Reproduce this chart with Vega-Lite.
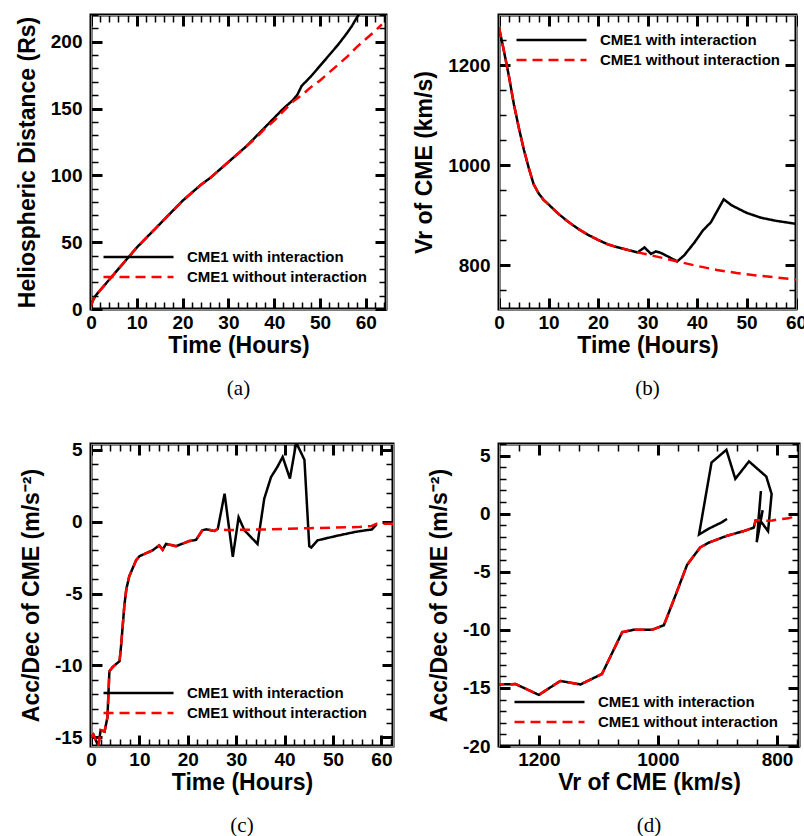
{
  "$schema": "https://vega.github.io/schema/vega-lite/v6.json",
  "background": "white",
  "padding": {"left": 14, "top": 6, "right": 0, "bottom": 0},
  "config": {
    "view": {"stroke": "black", "strokeWidth": 3},
    "axis": {"grid": false}
  },
  "datasets": {
    "dist": [
      {"t":0,"d":3,"s":"CME1 with interaction"},{"t":0.5,"d":7,"s":"CME1 with interaction"},{"t":1,"d":10,"s":"CME1 with interaction"},{"t":2,"d":14,"s":"CME1 with interaction"},{"t":4,"d":22,"s":"CME1 with interaction"},{"t":6,"d":30,"s":"CME1 with interaction"},{"t":8,"d":38,"s":"CME1 with interaction"},{"t":10,"d":46,"s":"CME1 with interaction"},{"t":12,"d":53,"s":"CME1 with interaction"},{"t":14,"d":60,"s":"CME1 with interaction"},{"t":16,"d":67,"s":"CME1 with interaction"},{"t":18,"d":74,"s":"CME1 with interaction"},{"t":20,"d":81,"s":"CME1 with interaction"},{"t":22,"d":87,"s":"CME1 with interaction"},{"t":24,"d":93,"s":"CME1 with interaction"},{"t":26,"d":98,"s":"CME1 with interaction"},{"t":28,"d":104,"s":"CME1 with interaction"},{"t":30,"d":110,"s":"CME1 with interaction"},{"t":32,"d":116,"s":"CME1 with interaction"},{"t":34,"d":122,"s":"CME1 with interaction"},{"t":36,"d":129,"s":"CME1 with interaction"},{"t":38,"d":136,"s":"CME1 with interaction"},{"t":40,"d":143,"s":"CME1 with interaction"},{"t":42,"d":150,"s":"CME1 with interaction"},{"t":44,"d":156,"s":"CME1 with interaction"},{"t":45,"d":160,"s":"CME1 with interaction"},{"t":46,"d":167,"s":"CME1 with interaction"},{"t":48,"d":174,"s":"CME1 with interaction"},{"t":50,"d":182,"s":"CME1 with interaction"},{"t":52,"d":190,"s":"CME1 with interaction"},{"t":54,"d":198,"s":"CME1 with interaction"},{"t":56,"d":207,"s":"CME1 with interaction"},{"t":57,"d":212,"s":"CME1 with interaction"},{"t":58,"d":218,"s":"CME1 with interaction"},{"t":59,"d":223,"s":"CME1 with interaction"},
      {"t":0,"d":2,"s":"CME1 without interaction"},{"t":0.5,"d":7,"s":"CME1 without interaction"},{"t":1,"d":10,"s":"CME1 without interaction"},{"t":2,"d":14,"s":"CME1 without interaction"},{"t":4,"d":22,"s":"CME1 without interaction"},{"t":6,"d":30,"s":"CME1 without interaction"},{"t":8,"d":38,"s":"CME1 without interaction"},{"t":10,"d":46,"s":"CME1 without interaction"},{"t":12,"d":53,"s":"CME1 without interaction"},{"t":14,"d":60,"s":"CME1 without interaction"},{"t":16,"d":67,"s":"CME1 without interaction"},{"t":18,"d":74,"s":"CME1 without interaction"},{"t":20,"d":81,"s":"CME1 without interaction"},{"t":22,"d":87,"s":"CME1 without interaction"},{"t":24,"d":93,"s":"CME1 without interaction"},{"t":26,"d":98,"s":"CME1 without interaction"},{"t":28,"d":104,"s":"CME1 without interaction"},{"t":30,"d":110,"s":"CME1 without interaction"},{"t":32,"d":116,"s":"CME1 without interaction"},{"t":34,"d":122,"s":"CME1 without interaction"},{"t":36,"d":128,"s":"CME1 without interaction"},{"t":38,"d":135,"s":"CME1 without interaction"},{"t":40,"d":141,"s":"CME1 without interaction"},{"t":42,"d":148,"s":"CME1 without interaction"},{"t":44,"d":155,"s":"CME1 without interaction"},{"t":46,"d":160,"s":"CME1 without interaction"},{"t":48,"d":166,"s":"CME1 without interaction"},{"t":50,"d":171,"s":"CME1 without interaction"},{"t":52,"d":177,"s":"CME1 without interaction"},{"t":54,"d":183,"s":"CME1 without interaction"},{"t":56,"d":189,"s":"CME1 without interaction"},{"t":58,"d":196,"s":"CME1 without interaction"},{"t":60,"d":202,"s":"CME1 without interaction"},{"t":62,"d":208,"s":"CME1 without interaction"},{"t":63.5,"d":213,"s":"CME1 without interaction"}
    ],
    "vel": [
      {"t":0,"v":1275,"s":"CME1 with interaction"},{"t":1,"v":1228,"s":"CME1 with interaction"},{"t":2,"v":1178,"s":"CME1 with interaction"},{"t":3,"v":1122,"s":"CME1 with interaction"},{"t":4,"v":1075,"s":"CME1 with interaction"},{"t":5,"v":1032,"s":"CME1 with interaction"},{"t":6,"v":995,"s":"CME1 with interaction"},{"t":7,"v":962,"s":"CME1 with interaction"},{"t":8,"v":944,"s":"CME1 with interaction"},{"t":9,"v":931,"s":"CME1 with interaction"},{"t":10,"v":922,"s":"CME1 with interaction"},{"t":12,"v":903,"s":"CME1 with interaction"},{"t":14,"v":887,"s":"CME1 with interaction"},{"t":16,"v":873,"s":"CME1 with interaction"},{"t":18,"v":861,"s":"CME1 with interaction"},{"t":20,"v":851,"s":"CME1 with interaction"},{"t":22,"v":842,"s":"CME1 with interaction"},{"t":24,"v":836,"s":"CME1 with interaction"},{"t":26,"v":831,"s":"CME1 with interaction"},{"t":28,"v":826,"s":"CME1 with interaction"},{"t":29.4,"v":836,"s":"CME1 with interaction"},{"t":30.7,"v":823,"s":"CME1 with interaction"},{"t":31.7,"v":828,"s":"CME1 with interaction"},{"t":32.7,"v":825,"s":"CME1 with interaction"},{"t":34.5,"v":816,"s":"CME1 with interaction"},{"t":36,"v":808,"s":"CME1 with interaction"},{"t":37.4,"v":820,"s":"CME1 with interaction"},{"t":39.5,"v":846,"s":"CME1 with interaction"},{"t":41.2,"v":870,"s":"CME1 with interaction"},{"t":42.8,"v":886,"s":"CME1 with interaction"},{"t":45.4,"v":932,"s":"CME1 with interaction"},{"t":47,"v":920,"s":"CME1 with interaction"},{"t":50,"v":905,"s":"CME1 with interaction"},{"t":53,"v":895,"s":"CME1 with interaction"},{"t":56,"v":889,"s":"CME1 with interaction"},{"t":58,"v":886,"s":"CME1 with interaction"},{"t":60,"v":883,"s":"CME1 with interaction"},
      {"t":0,"v":1275,"s":"CME1 without interaction"},{"t":1,"v":1228,"s":"CME1 without interaction"},{"t":2,"v":1178,"s":"CME1 without interaction"},{"t":3,"v":1122,"s":"CME1 without interaction"},{"t":4,"v":1075,"s":"CME1 without interaction"},{"t":5,"v":1032,"s":"CME1 without interaction"},{"t":6,"v":995,"s":"CME1 without interaction"},{"t":7,"v":962,"s":"CME1 without interaction"},{"t":8,"v":944,"s":"CME1 without interaction"},{"t":9,"v":931,"s":"CME1 without interaction"},{"t":10,"v":922,"s":"CME1 without interaction"},{"t":12,"v":903,"s":"CME1 without interaction"},{"t":14,"v":887,"s":"CME1 without interaction"},{"t":16,"v":873,"s":"CME1 without interaction"},{"t":18,"v":861,"s":"CME1 without interaction"},{"t":20,"v":851,"s":"CME1 without interaction"},{"t":22,"v":842,"s":"CME1 without interaction"},{"t":24,"v":836,"s":"CME1 without interaction"},{"t":26,"v":831,"s":"CME1 without interaction"},{"t":28,"v":826,"s":"CME1 without interaction"},{"t":30,"v":822,"s":"CME1 without interaction"},{"t":33,"v":815,"s":"CME1 without interaction"},{"t":36,"v":808,"s":"CME1 without interaction"},{"t":40,"v":799,"s":"CME1 without interaction"},{"t":44,"v":791,"s":"CME1 without interaction"},{"t":48,"v":785,"s":"CME1 without interaction"},{"t":52,"v":780,"s":"CME1 without interaction"},{"t":56,"v":776,"s":"CME1 without interaction"},{"t":60,"v":772,"s":"CME1 without interaction"}
    ],
    "acc": [
      {"t":0,"a":-15.0,"s":"CME1 with interaction"},{"t":0.5,"a":-14.8,"s":"CME1 with interaction"},{"t":1,"a":-15.2,"s":"CME1 with interaction"},{"t":1.5,"a":-15.6,"s":"CME1 with interaction"},{"t":2,"a":-14.5,"s":"CME1 with interaction"},{"t":2.8,"a":-14.6,"s":"CME1 with interaction"},{"t":3.4,"a":-13.6,"s":"CME1 with interaction"},{"t":3.8,"a":-10.4,"s":"CME1 with interaction"},{"t":4.5,"a":-10.1,"s":"CME1 with interaction"},{"t":5.9,"a":-9.7,"s":"CME1 with interaction"},{"t":6.2,"a":-8.7,"s":"CME1 with interaction"},{"t":6.9,"a":-5.8,"s":"CME1 with interaction"},{"t":7.3,"a":-4.7,"s":"CME1 with interaction"},{"t":7.9,"a":-3.8,"s":"CME1 with interaction"},{"t":9.3,"a":-2.7,"s":"CME1 with interaction"},{"t":10,"a":-2.4,"s":"CME1 with interaction"},{"t":12.7,"a":-2.0,"s":"CME1 with interaction"},{"t":14.1,"a":-1.65,"s":"CME1 with interaction"},{"t":14.8,"a":-1.95,"s":"CME1 with interaction"},{"t":15.5,"a":-1.55,"s":"CME1 with interaction"},{"t":17.6,"a":-1.7,"s":"CME1 with interaction"},{"t":20.3,"a":-1.35,"s":"CME1 with interaction"},{"t":21.7,"a":-1.27,"s":"CME1 with interaction"},{"t":23,"a":-0.6,"s":"CME1 with interaction"},{"t":23.8,"a":-0.53,"s":"CME1 with interaction"},{"t":25.5,"a":-0.65,"s":"CME1 with interaction"},{"t":26.2,"a":-0.5,"s":"CME1 with interaction"},{"t":27.6,"a":1.95,"s":"CME1 with interaction"},{"t":29.3,"a":-2.45,"s":"CME1 with interaction"},{"t":30.5,"a":0.3,"s":"CME1 with interaction"},{"t":31.7,"a":-0.6,"s":"CME1 with interaction"},{"t":34.4,"a":-1.55,"s":"CME1 with interaction"},{"t":35.8,"a":1.6,"s":"CME1 with interaction"},{"t":37.2,"a":3.1,"s":"CME1 with interaction"},{"t":38.5,"a":3.8,"s":"CME1 with interaction"},{"t":39.6,"a":4.5,"s":"CME1 with interaction"},{"t":41.1,"a":3.0,"s":"CME1 with interaction"},{"t":42.4,"a":5.5,"s":"CME1 with interaction"},{"t":44.1,"a":4.3,"s":"CME1 with interaction"},{"t":45.1,"a":-1.7,"s":"CME1 with interaction"},{"t":45.5,"a":-1.8,"s":"CME1 with interaction"},{"t":46.8,"a":-1.3,"s":"CME1 with interaction"},{"t":50.6,"a":-1.0,"s":"CME1 with interaction"},{"t":54.8,"a":-0.7,"s":"CME1 with interaction"},{"t":56.8,"a":-0.6,"s":"CME1 with interaction"},{"t":58,"a":-0.55,"s":"CME1 with interaction"},{"t":59,"a":-0.2,"s":"CME1 with interaction"},
      {"t":0,"a":-15.0,"s":"CME1 without interaction"},{"t":0.5,"a":-14.8,"s":"CME1 without interaction"},{"t":1,"a":-15.2,"s":"CME1 without interaction"},{"t":1.5,"a":-15.6,"s":"CME1 without interaction"},{"t":2,"a":-14.5,"s":"CME1 without interaction"},{"t":2.8,"a":-14.6,"s":"CME1 without interaction"},{"t":3.4,"a":-13.6,"s":"CME1 without interaction"},{"t":3.8,"a":-10.4,"s":"CME1 without interaction"},{"t":4.5,"a":-10.1,"s":"CME1 without interaction"},{"t":5.9,"a":-9.7,"s":"CME1 without interaction"},{"t":6.2,"a":-8.7,"s":"CME1 without interaction"},{"t":6.9,"a":-5.8,"s":"CME1 without interaction"},{"t":7.3,"a":-4.7,"s":"CME1 without interaction"},{"t":7.9,"a":-3.8,"s":"CME1 without interaction"},{"t":9.3,"a":-2.7,"s":"CME1 without interaction"},{"t":10,"a":-2.4,"s":"CME1 without interaction"},{"t":12.7,"a":-2.0,"s":"CME1 without interaction"},{"t":14.1,"a":-1.65,"s":"CME1 without interaction"},{"t":14.8,"a":-1.95,"s":"CME1 without interaction"},{"t":15.5,"a":-1.55,"s":"CME1 without interaction"},{"t":17.6,"a":-1.7,"s":"CME1 without interaction"},{"t":20.3,"a":-1.35,"s":"CME1 without interaction"},{"t":21.7,"a":-1.27,"s":"CME1 without interaction"},{"t":23,"a":-0.6,"s":"CME1 without interaction"},{"t":23.8,"a":-0.53,"s":"CME1 without interaction"},{"t":25.5,"a":-0.65,"s":"CME1 without interaction"},{"t":26.2,"a":-0.5,"s":"CME1 without interaction"},{"t":28,"a":-0.58,"s":"CME1 without interaction"},{"t":35,"a":-0.55,"s":"CME1 without interaction"},{"t":45,"a":-0.45,"s":"CME1 without interaction"},{"t":55,"a":-0.38,"s":"CME1 without interaction"},{"t":58,"a":-0.3,"s":"CME1 without interaction"},{"t":59,"a":-0.15,"s":"CME1 without interaction"},{"t":62.4,"a":-0.15,"s":"CME1 without interaction"}
    ],
    "phase": [
      {"i":1,"v":1275,"a":-14.7,"s":"CME1 with interaction"},{"i":2,"v":1239,"a":-14.67,"s":"CME1 with interaction"},{"i":3,"v":1200,"a":-15.6,"s":"CME1 with interaction"},{"i":4,"v":1164,"a":-14.4,"s":"CME1 with interaction"},{"i":5,"v":1130,"a":-14.7,"s":"CME1 with interaction"},{"i":6,"v":1094,"a":-13.8,"s":"CME1 with interaction"},{"i":7,"v":1060,"a":-10.2,"s":"CME1 with interaction"},{"i":8,"v":1041,"a":-10.0,"s":"CME1 with interaction"},{"i":9,"v":1010,"a":-10.0,"s":"CME1 with interaction"},{"i":10,"v":990,"a":-9.6,"s":"CME1 with interaction"},{"i":11,"v":974,"a":-7.5,"s":"CME1 with interaction"},{"i":12,"v":951,"a":-4.4,"s":"CME1 with interaction"},{"i":13,"v":929,"a":-2.9,"s":"CME1 with interaction"},{"i":14,"v":915,"a":-2.5,"s":"CME1 with interaction"},{"i":15,"v":884,"a":-1.9,"s":"CME1 with interaction"},{"i":16,"v":856,"a":-1.5,"s":"CME1 with interaction"},{"i":17,"v":839,"a":-1.2,"s":"CME1 with interaction"},{"i":18,"v":836,"a":-0.6,"s":"CME1 with interaction"},{"i":19,"v":833,"a":-0.65,"s":"CME1 with interaction"},{"i":20,"v":831,"a":-0.46,"s":"CME1 with interaction"},{"i":21,"v":827,"a":1.95,"s":"CME1 with interaction"},{"i":22,"v":834,"a":-2.45,"s":"CME1 with interaction"},{"i":23,"v":824,"a":0.3,"s":"CME1 with interaction"},{"i":24,"v":828,"a":-0.6,"s":"CME1 with interaction"},{"i":25,"v":815,"a":-1.5,"s":"CME1 with interaction"},{"i":26,"v":809,"a":1.7,"s":"CME1 with interaction"},{"i":27,"v":818,"a":3.2,"s":"CME1 with interaction"},{"i":28,"v":847,"a":4.5,"s":"CME1 with interaction"},{"i":29,"v":870,"a":3.0,"s":"CME1 with interaction"},{"i":30,"v":885,"a":5.5,"s":"CME1 with interaction"},{"i":31,"v":910,"a":4.4,"s":"CME1 with interaction"},{"i":32,"v":931,"a":-1.8,"s":"CME1 with interaction"},{"i":33,"v":915,"a":-1.3,"s":"CME1 with interaction"},{"i":34,"v":903,"a":-1.0,"s":"CME1 with interaction"},{"i":35,"v":893,"a":-0.75,"s":"CME1 with interaction"},{"i":36,"v":884,"a":-0.45,"s":"CME1 with interaction"},
      {"i":1,"v":1275,"a":-14.7,"s":"CME1 without interaction"},{"i":2,"v":1239,"a":-14.67,"s":"CME1 without interaction"},{"i":3,"v":1200,"a":-15.6,"s":"CME1 without interaction"},{"i":4,"v":1164,"a":-14.4,"s":"CME1 without interaction"},{"i":5,"v":1130,"a":-14.7,"s":"CME1 without interaction"},{"i":6,"v":1094,"a":-13.8,"s":"CME1 without interaction"},{"i":7,"v":1060,"a":-10.2,"s":"CME1 without interaction"},{"i":8,"v":1041,"a":-10.0,"s":"CME1 without interaction"},{"i":9,"v":1010,"a":-10.0,"s":"CME1 without interaction"},{"i":10,"v":990,"a":-9.6,"s":"CME1 without interaction"},{"i":11,"v":974,"a":-7.5,"s":"CME1 without interaction"},{"i":12,"v":951,"a":-4.4,"s":"CME1 without interaction"},{"i":13,"v":929,"a":-2.9,"s":"CME1 without interaction"},{"i":14,"v":915,"a":-2.5,"s":"CME1 without interaction"},{"i":15,"v":884,"a":-1.9,"s":"CME1 without interaction"},{"i":16,"v":856,"a":-1.5,"s":"CME1 without interaction"},{"i":17,"v":839,"a":-1.2,"s":"CME1 without interaction"},{"i":18,"v":836,"a":-0.6,"s":"CME1 without interaction"},{"i":19,"v":831,"a":-0.55,"s":"CME1 without interaction"},{"i":20,"v":826,"a":-0.6,"s":"CME1 without interaction"},{"i":21,"v":816,"a":-0.6,"s":"CME1 without interaction"},{"i":22,"v":808,"a":-0.58,"s":"CME1 without interaction"},{"i":23,"v":800,"a":-0.5,"s":"CME1 without interaction"},{"i":24,"v":791,"a":-0.45,"s":"CME1 without interaction"},{"i":25,"v":781,"a":-0.4,"s":"CME1 without interaction"},{"i":26,"v":775,"a":-0.3,"s":"CME1 without interaction"},{"i":27,"v":773,"a":-0.2,"s":"CME1 without interaction"},{"i":28,"v":770,"a":-0.15,"s":"CME1 without interaction"}
    ]
  },
  "columns": 2,
  "spacing": {"row": 37, "column": 14},
  "resolve": {"scale": {"color": "independent", "strokeDash": "independent"}},
  "concat": [
    {
      "width": 295, "height": 294,
      "title": {"text": "(a)", "orient": "bottom", "anchor": "middle", "offset": 21, "font": "Liberation Serif", "fontSize": 21, "fontWeight": "normal", "color": "black"},
      "data": {"name": "dist"},
      "layer": [
        {
          "mark": {"type": "line", "strokeWidth": 2.5, "clip": true},
          "encoding": {
            "x": {"field": "t", "type": "quantitative", "scale": {"domain": [0, 64.4], "nice": false, "zero": false},
              "axis": {"orient": "bottom", "title": "Time (Hours)", "ticks": false, "domain": false, "values": [0,10,20,30,40,50,60], "labelExpr": "toString(datum.value)", "labelFont": "Liberation Sans", "labelFontWeight": "bold", "labelFontSize": 19, "labelColor": "black", "titleFont": "Liberation Sans", "titleFontWeight": "bold", "titleFontSize": 23, "titleColor": "black", "labelOverlap": false, "labelFlush": false, "labelPadding": 4, "titlePadding": 2}},
            "y": {"field": "d", "type": "quantitative", "scale": {"domain": [0, 220], "nice": false, "zero": false},
              "axis": {"orient": "left", "title": "Heliospheric Distance (Rs)", "ticks": false, "domain": false, "values": [0,50,100,150,200], "labelExpr": "toString(datum.value)", "labelFont": "Liberation Sans", "labelFontWeight": "bold", "labelFontSize": 19, "labelColor": "black", "titleFont": "Liberation Sans", "titleFontWeight": "bold", "titleFontSize": 23, "titleColor": "black", "labelOverlap": false, "labelFlush": false, "labelPadding": 9, "titlePadding": 11}},
            "color": {"field": "s", "type": "nominal", "scale": {"domain": ["CME1 with interaction", "CME1 without interaction"], "range": ["black", "red"]},
              "legend": {"orient": "none", "legendX": 11, "legendY": 235, "title": null, "symbolType": "stroke", "symbolSize": 4900, "symbolStrokeWidth": 2.5, "labelFont": "Liberation Sans", "labelFontWeight": "bold", "labelFontSize": 15, "labelColor": "black", "labelLimit": 400, "clipHeight": 14, "rowPadding": 5, "labelOffset": 12, "padding": 0}},
            "strokeDash": {"field": "s", "type": "nominal", "scale": {"domain": ["CME1 with interaction", "CME1 without interaction"], "range": [[1, 0], [10, 6]]},
              "legend": {"orient": "none", "legendX": 11, "legendY": 235, "title": null, "symbolType": "stroke", "symbolSize": 4900, "symbolStrokeWidth": 2.5, "labelFont": "Liberation Sans", "labelFontWeight": "bold", "labelFontSize": 15, "labelColor": "black", "labelLimit": 400, "clipHeight": 14, "rowPadding": 5, "labelOffset": 12, "padding": 0}}
          }
        },
        {"mark": {"type": "point", "opacity": 0}, "encoding": {
            "x": {"field": "t", "type": "quantitative", "axis": {"orient": "bottom", "title": null, "labels": false, "values": [0,10,20,30,40,50,60], "tickSize": -11, "tickWidth": 3, "tickColor": "black"}},
            "y": {"field": "d", "type": "quantitative", "axis": {"orient": "left", "title": null, "labels": false, "values": [0,50,100,150,200], "tickSize": -11, "tickWidth": 3, "tickColor": "black"}}}},
        {"mark": {"type": "point", "opacity": 0}, "encoding": {
            "x": {"field": "t", "type": "quantitative", "axis": {"orient": "top", "title": null, "labels": false, "values": [0,10,20,30,40,50,60], "tickSize": -11, "tickWidth": 3, "tickColor": "black"}},
            "y": {"field": "d", "type": "quantitative", "axis": {"orient": "right", "title": null, "labels": false, "values": [0,50,100,150,200], "tickSize": -11, "tickWidth": 3, "tickColor": "black"}}}},
        {"mark": {"type": "point", "opacity": 0}, "encoding": {
            "x": {"field": "t", "type": "quantitative", "axis": {"orient": "bottom", "title": null, "labels": false, "values": [2,4,6,8,12,14,16,18,22,24,26,28,32,34,36,38,42,44,46,48,52,54,56,58,62,64], "tickSize": -7, "tickWidth": 1.5, "tickColor": "black"}},
            "y": {"field": "d", "type": "quantitative", "axis": {"orient": "left", "title": null, "labels": false, "values": [10,20,30,40,60,70,80,90,110,120,130,140,160,170,180,190,210,220], "tickSize": -7, "tickWidth": 1.5, "tickColor": "black"}}}},
        {"mark": {"type": "point", "opacity": 0}, "encoding": {
            "x": {"field": "t", "type": "quantitative", "axis": {"orient": "top", "title": null, "labels": false, "values": [2,4,6,8,12,14,16,18,22,24,26,28,32,34,36,38,42,44,46,48,52,54,56,58,62,64], "tickSize": -7, "tickWidth": 1.5, "tickColor": "black"}},
            "y": {"field": "d", "type": "quantitative", "axis": {"orient": "right", "title": null, "labels": false, "values": [10,20,30,40,60,70,80,90,110,120,130,140,160,170,180,190,210,220], "tickSize": -7, "tickWidth": 1.5, "tickColor": "black"}}}}
      ],
      "resolve": {"axis": {"x": "independent", "y": "independent"}}
    },
    {
      "width": 297, "height": 294,
      "title": {"text": "(b)", "orient": "bottom", "anchor": "middle", "offset": 21, "font": "Liberation Serif", "fontSize": 21, "fontWeight": "normal", "color": "black"},
      "data": {"name": "vel"},
      "layer": [
        {
          "mark": {"type": "line", "strokeWidth": 2.5, "clip": true},
          "encoding": {
            "x": {"field": "t", "type": "quantitative", "scale": {"domain": [0, 60], "nice": false, "zero": false},
              "axis": {"orient": "bottom", "title": "Time (Hours)", "ticks": false, "domain": false, "values": [0,10,20,30,40,50,60], "labelExpr": "toString(datum.value)", "labelFont": "Liberation Sans", "labelFontWeight": "bold", "labelFontSize": 19, "labelColor": "black", "titleFont": "Liberation Sans", "titleFontWeight": "bold", "titleFontSize": 23, "titleColor": "black", "labelOverlap": false, "labelFlush": false, "labelPadding": 4, "titlePadding": 2}},
            "y": {"field": "v", "type": "quantitative", "scale": {"domain": [713, 1300], "nice": false, "zero": false},
              "axis": {"orient": "left", "title": "Vr of CME (km/s)", "ticks": false, "domain": false, "values": [800,1000,1200], "labelExpr": "toString(datum.value)", "labelFont": "Liberation Sans", "labelFontWeight": "bold", "labelFontSize": 19, "labelColor": "black", "titleFont": "Liberation Sans", "titleFontWeight": "bold", "titleFontSize": 23, "titleColor": "black", "labelOverlap": false, "labelFlush": false, "labelPadding": 9, "titlePadding": 11}},
            "color": {"field": "s", "type": "nominal", "scale": {"domain": ["CME1 with interaction", "CME1 without interaction"], "range": ["black", "red"]},
              "legend": {"orient": "none", "legendX": 16, "legendY": 18, "title": null, "symbolType": "stroke", "symbolSize": 4900, "symbolStrokeWidth": 2.5, "labelFont": "Liberation Sans", "labelFontWeight": "bold", "labelFontSize": 15, "labelColor": "black", "labelLimit": 400, "clipHeight": 14, "rowPadding": 5, "labelOffset": 12, "padding": 0}},
            "strokeDash": {"field": "s", "type": "nominal", "scale": {"domain": ["CME1 with interaction", "CME1 without interaction"], "range": [[1, 0], [10, 6]]},
              "legend": {"orient": "none", "legendX": 16, "legendY": 18, "title": null, "symbolType": "stroke", "symbolSize": 4900, "symbolStrokeWidth": 2.5, "labelFont": "Liberation Sans", "labelFontWeight": "bold", "labelFontSize": 15, "labelColor": "black", "labelLimit": 400, "clipHeight": 14, "rowPadding": 5, "labelOffset": 12, "padding": 0}}
          }
        },
        {"mark": {"type": "point", "opacity": 0}, "encoding": {
            "x": {"field": "t", "type": "quantitative", "axis": {"orient": "bottom", "title": null, "labels": false, "values": [0,10,20,30,40,50,60], "tickSize": -11, "tickWidth": 3, "tickColor": "black"}},
            "y": {"field": "v", "type": "quantitative", "axis": {"orient": "left", "title": null, "labels": false, "values": [800,1000,1200], "tickSize": -11, "tickWidth": 3, "tickColor": "black"}}}},
        {"mark": {"type": "point", "opacity": 0}, "encoding": {
            "x": {"field": "t", "type": "quantitative", "axis": {"orient": "top", "title": null, "labels": false, "values": [0,10,20,30,40,50,60], "tickSize": -11, "tickWidth": 3, "tickColor": "black"}},
            "y": {"field": "v", "type": "quantitative", "axis": {"orient": "right", "title": null, "labels": false, "values": [800,1000,1200], "tickSize": -11, "tickWidth": 3, "tickColor": "black"}}}},
        {"mark": {"type": "point", "opacity": 0}, "encoding": {
            "x": {"field": "t", "type": "quantitative", "axis": {"orient": "bottom", "title": null, "labels": false, "values": [2,4,6,8,12,14,16,18,22,24,26,28,32,34,36,38,42,44,46,48,52,54,56,58], "tickSize": -7, "tickWidth": 1.5, "tickColor": "black"}},
            "y": {"field": "v", "type": "quantitative", "axis": {"orient": "left", "title": null, "labels": false, "values": [750,850,900,950,1050,1100,1150,1250], "tickSize": -7, "tickWidth": 1.5, "tickColor": "black"}}}},
        {"mark": {"type": "point", "opacity": 0}, "encoding": {
            "x": {"field": "t", "type": "quantitative", "axis": {"orient": "top", "title": null, "labels": false, "values": [2,4,6,8,12,14,16,18,22,24,26,28,32,34,36,38,42,44,46,48,52,54,56,58], "tickSize": -7, "tickWidth": 1.5, "tickColor": "black"}},
            "y": {"field": "v", "type": "quantitative", "axis": {"orient": "right", "title": null, "labels": false, "values": [750,850,900,950,1050,1100,1150,1250], "tickSize": -7, "tickWidth": 1.5, "tickColor": "black"}}}}
      ],
      "resolve": {"axis": {"x": "independent", "y": "independent"}}
    },
    {
      "width": 302, "height": 302,
      "title": {"text": "(c)", "orient": "bottom", "anchor": "middle", "offset": 21, "font": "Liberation Serif", "fontSize": 21, "fontWeight": "normal", "color": "black"},
      "data": {"name": "acc"},
      "layer": [
        {
          "mark": {"type": "line", "strokeWidth": 2.5, "clip": true},
          "encoding": {
            "x": {"field": "t", "type": "quantitative", "scale": {"domain": [0, 62.4], "nice": false, "zero": false},
              "axis": {"orient": "bottom", "title": "Time (Hours)", "ticks": false, "domain": false, "values": [0,10,20,30,40,50,60], "labelExpr": "toString(datum.value)", "labelFont": "Liberation Sans", "labelFontWeight": "bold", "labelFontSize": 19, "labelColor": "black", "titleFont": "Liberation Sans", "titleFontWeight": "bold", "titleFontSize": 23, "titleColor": "black", "labelOverlap": false, "labelFlush": false, "labelPadding": 4, "titlePadding": 2}},
            "y": {"field": "a", "type": "quantitative", "scale": {"domain": [-15.6, 5.4], "nice": false, "zero": false},
              "axis": {"orient": "left", "title": "Acc/Dec of CME (m/s⁻²)", "ticks": false, "domain": false, "values": [-15,-10,-5,0,5], "labelExpr": "toString(datum.value)", "labelFont": "Liberation Sans", "labelFontWeight": "bold", "labelFontSize": 19, "labelColor": "black", "titleFont": "Liberation Sans", "titleFontWeight": "bold", "titleFontSize": 23, "titleColor": "black", "labelOverlap": false, "labelFlush": false, "labelPadding": 9, "titlePadding": 11}},
            "color": {"field": "s", "type": "nominal", "scale": {"domain": ["CME1 with interaction", "CME1 without interaction"], "range": ["black", "red"]},
              "legend": {"orient": "none", "legendX": 11, "legendY": 242, "title": null, "symbolType": "stroke", "symbolSize": 4900, "symbolStrokeWidth": 2.5, "labelFont": "Liberation Sans", "labelFontWeight": "bold", "labelFontSize": 15, "labelColor": "black", "labelLimit": 400, "clipHeight": 14, "rowPadding": 5, "labelOffset": 12, "padding": 0}},
            "strokeDash": {"field": "s", "type": "nominal", "scale": {"domain": ["CME1 with interaction", "CME1 without interaction"], "range": [[1, 0], [10, 6]]},
              "legend": {"orient": "none", "legendX": 11, "legendY": 242, "title": null, "symbolType": "stroke", "symbolSize": 4900, "symbolStrokeWidth": 2.5, "labelFont": "Liberation Sans", "labelFontWeight": "bold", "labelFontSize": 15, "labelColor": "black", "labelLimit": 400, "clipHeight": 14, "rowPadding": 5, "labelOffset": 12, "padding": 0}}
          }
        },
        {"mark": {"type": "point", "opacity": 0}, "encoding": {
            "x": {"field": "t", "type": "quantitative", "axis": {"orient": "bottom", "title": null, "labels": false, "values": [0,10,20,30,40,50,60], "tickSize": -11, "tickWidth": 3, "tickColor": "black"}},
            "y": {"field": "a", "type": "quantitative", "axis": {"orient": "left", "title": null, "labels": false, "values": [-15,-10,-5,0,5], "tickSize": -11, "tickWidth": 3, "tickColor": "black"}}}},
        {"mark": {"type": "point", "opacity": 0}, "encoding": {
            "x": {"field": "t", "type": "quantitative", "axis": {"orient": "top", "title": null, "labels": false, "values": [0,10,20,30,40,50,60], "tickSize": -11, "tickWidth": 3, "tickColor": "black"}},
            "y": {"field": "a", "type": "quantitative", "axis": {"orient": "right", "title": null, "labels": false, "values": [-15,-10,-5,0,5], "tickSize": -11, "tickWidth": 3, "tickColor": "black"}}}},
        {"mark": {"type": "point", "opacity": 0}, "encoding": {
            "x": {"field": "t", "type": "quantitative", "axis": {"orient": "bottom", "title": null, "labels": false, "values": [2,4,6,8,12,14,16,18,22,24,26,28,32,34,36,38,42,44,46,48,52,54,56,58,62], "tickSize": -7, "tickWidth": 1.5, "tickColor": "black"}},
            "y": {"field": "a", "type": "quantitative", "axis": {"orient": "left", "title": null, "labels": false, "values": [-14,-13,-12,-11,-9,-8,-7,-6,-4,-3,-2,-1,1,2,3,4], "tickSize": -7, "tickWidth": 1.5, "tickColor": "black"}}}},
        {"mark": {"type": "point", "opacity": 0}, "encoding": {
            "x": {"field": "t", "type": "quantitative", "axis": {"orient": "top", "title": null, "labels": false, "values": [2,4,6,8,12,14,16,18,22,24,26,28,32,34,36,38,42,44,46,48,52,54,56,58,62], "tickSize": -7, "tickWidth": 1.5, "tickColor": "black"}},
            "y": {"field": "a", "type": "quantitative", "axis": {"orient": "right", "title": null, "labels": false, "values": [-14,-13,-12,-11,-9,-8,-7,-6,-4,-3,-2,-1,1,2,3,4], "tickSize": -7, "tickWidth": 1.5, "tickColor": "black"}}}}
      ],
      "resolve": {"axis": {"x": "independent", "y": "independent"}}
    },
    {
      "width": 300, "height": 302,
      "title": {"text": "(d)", "orient": "bottom", "anchor": "middle", "offset": 21, "font": "Liberation Serif", "fontSize": 21, "fontWeight": "normal", "color": "black"},
      "data": {"name": "phase"},
      "layer": [
        {
          "mark": {"type": "line", "strokeWidth": 2.5, "clip": true},
          "encoding": {
            "x": {"field": "v", "type": "quantitative", "scale": {"domain": [763, 1267], "reverse": true, "nice": false, "zero": false},
              "axis": {"orient": "bottom", "title": "Vr of CME (km/s)", "ticks": false, "domain": false, "values": [800,1000,1200], "labelExpr": "toString(datum.value)", "labelFont": "Liberation Sans", "labelFontWeight": "bold", "labelFontSize": 19, "labelColor": "black", "titleFont": "Liberation Sans", "titleFontWeight": "bold", "titleFontSize": 23, "titleColor": "black", "labelOverlap": false, "labelFlush": false, "labelPadding": 4, "titlePadding": 2}},
            "y": {"field": "a", "type": "quantitative", "scale": {"domain": [-20, 6], "nice": false, "zero": false},
              "axis": {"orient": "left", "title": "Acc/Dec of CME (m/s⁻²)", "ticks": false, "domain": false, "values": [-20,-15,-10,-5,0,5], "labelExpr": "toString(datum.value)", "labelFont": "Liberation Sans", "labelFontWeight": "bold", "labelFontSize": 19, "labelColor": "black", "titleFont": "Liberation Sans", "titleFontWeight": "bold", "titleFontSize": 23, "titleColor": "black", "labelOverlap": false, "labelFlush": false, "labelPadding": 9, "titlePadding": 11}},
            "order": {"field": "i", "type": "quantitative"},
            "color": {"field": "s", "type": "nominal", "scale": {"domain": ["CME1 with interaction", "CME1 without interaction"], "range": ["black", "red"]},
              "legend": {"orient": "none", "legendX": 14, "legendY": 251, "title": null, "symbolType": "stroke", "symbolSize": 4900, "symbolStrokeWidth": 2.5, "labelFont": "Liberation Sans", "labelFontWeight": "bold", "labelFontSize": 15, "labelColor": "black", "labelLimit": 400, "clipHeight": 14, "rowPadding": 5, "labelOffset": 12, "padding": 0}},
            "strokeDash": {"field": "s", "type": "nominal", "scale": {"domain": ["CME1 with interaction", "CME1 without interaction"], "range": [[1, 0], [10, 6]]},
              "legend": {"orient": "none", "legendX": 14, "legendY": 251, "title": null, "symbolType": "stroke", "symbolSize": 4900, "symbolStrokeWidth": 2.5, "labelFont": "Liberation Sans", "labelFontWeight": "bold", "labelFontSize": 15, "labelColor": "black", "labelLimit": 400, "clipHeight": 14, "rowPadding": 5, "labelOffset": 12, "padding": 0}}
          }
        },
        {"mark": {"type": "point", "opacity": 0}, "encoding": {
            "x": {"field": "v", "type": "quantitative", "axis": {"orient": "bottom", "title": null, "labels": false, "values": [800,1000,1200], "tickSize": -11, "tickWidth": 3, "tickColor": "black"}},
            "y": {"field": "a", "type": "quantitative", "axis": {"orient": "left", "title": null, "labels": false, "values": [-20,-15,-10,-5,0,5], "tickSize": -11, "tickWidth": 3, "tickColor": "black"}}}},
        {"mark": {"type": "point", "opacity": 0}, "encoding": {
            "x": {"field": "v", "type": "quantitative", "axis": {"orient": "top", "title": null, "labels": false, "values": [800,1000,1200], "tickSize": -11, "tickWidth": 3, "tickColor": "black"}},
            "y": {"field": "a", "type": "quantitative", "axis": {"orient": "right", "title": null, "labels": false, "values": [-20,-15,-10,-5,0,5], "tickSize": -11, "tickWidth": 3, "tickColor": "black"}}}},
        {"mark": {"type": "point", "opacity": 0}, "encoding": {
            "x": {"field": "v", "type": "quantitative", "axis": {"orient": "bottom", "title": null, "labels": false, "values": [766.667,833.333,866.667,900,933.333,966.667,1033.333,1066.667,1100,1133.333,1166.667,1233.333,1266.667], "tickSize": -7, "tickWidth": 1.5, "tickColor": "black"}},
            "y": {"field": "a", "type": "quantitative", "axis": {"orient": "left", "title": null, "labels": false, "values": [-19,-18,-17,-16,-14,-13,-12,-11,-9,-8,-7,-6,-4,-3,-2,-1,1,2,3,4,6], "tickSize": -7, "tickWidth": 1.5, "tickColor": "black"}}}},
        {"mark": {"type": "point", "opacity": 0}, "encoding": {
            "x": {"field": "v", "type": "quantitative", "axis": {"orient": "top", "title": null, "labels": false, "values": [766.667,833.333,866.667,900,933.333,966.667,1033.333,1066.667,1100,1133.333,1166.667,1233.333,1266.667], "tickSize": -7, "tickWidth": 1.5, "tickColor": "black"}},
            "y": {"field": "a", "type": "quantitative", "axis": {"orient": "right", "title": null, "labels": false, "values": [-19,-18,-17,-16,-14,-13,-12,-11,-9,-8,-7,-6,-4,-3,-2,-1,1,2,3,4,6], "tickSize": -7, "tickWidth": 1.5, "tickColor": "black"}}}}
      ],
      "resolve": {"axis": {"x": "independent", "y": "independent"}}
    }
  ]
}
